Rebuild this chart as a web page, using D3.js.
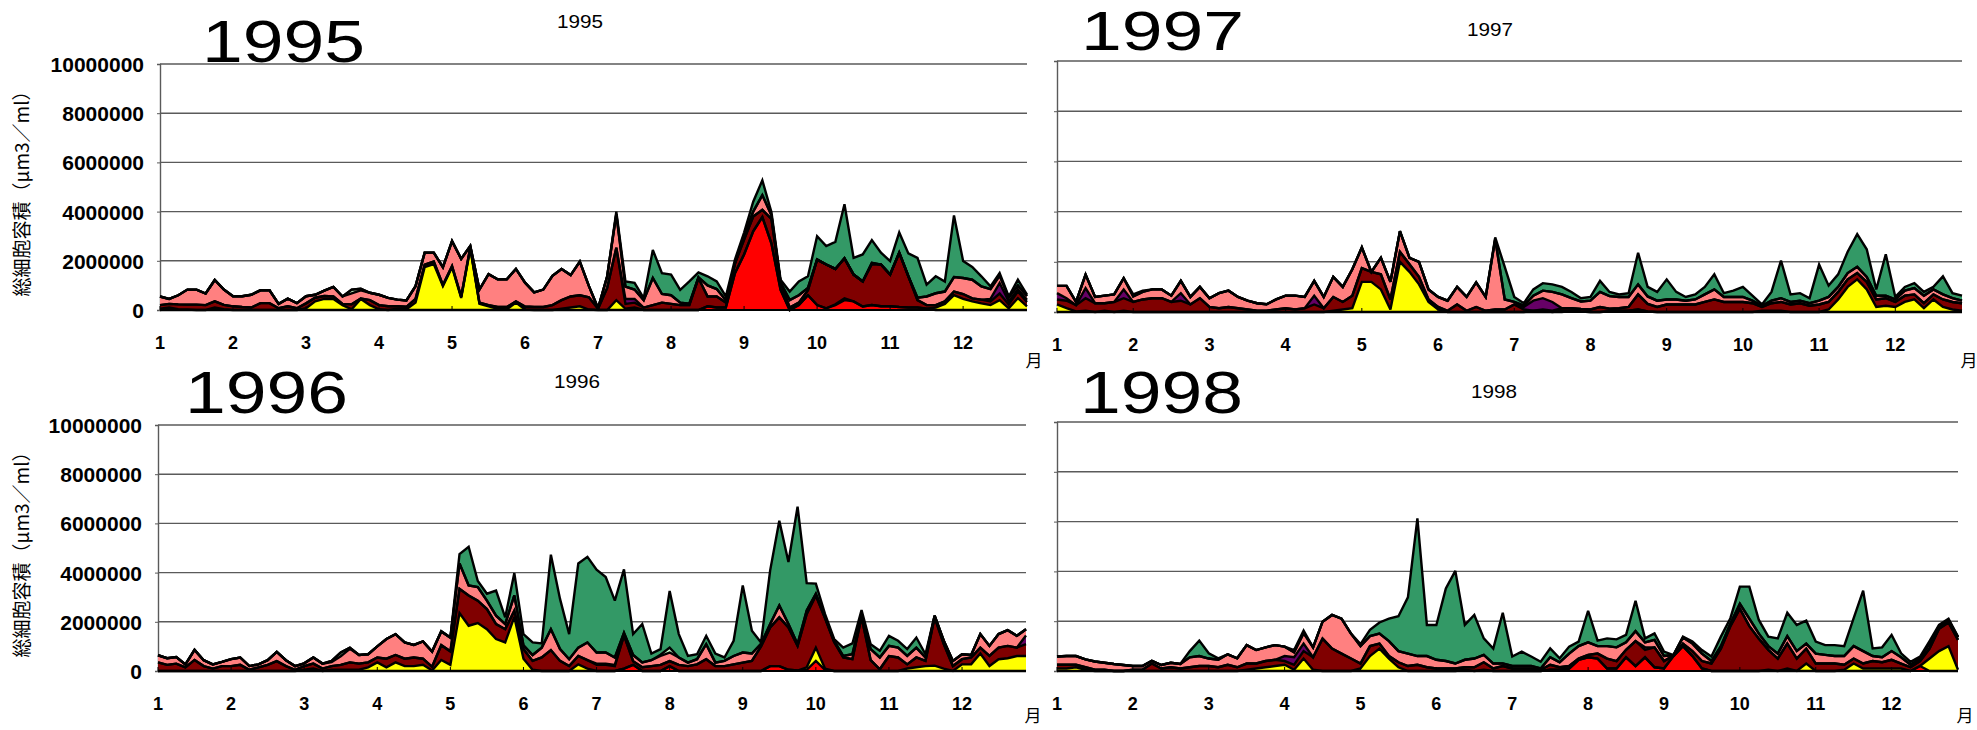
<!DOCTYPE html>
<html>
<head>
<meta charset="utf-8">
<script src="https://cdn.jsdelivr.net/npm/d3@7"></script>
<style>
  body { margin: 0; background: #fff; }
  text { font-family: "Liberation Sans", Arial, sans-serif; }
</style>
</head>
<body>
<svg id="chart" width="1977" height="730"></svg>
<script>
// ---- axis content ----
const monthLabels = ["1","2","3","4","5","6","7","8","9","10","11","12"];
const monthStartIndex = [0, 8, 16, 24, 32, 40, 48, 56, 64, 72, 80, 88];
const yTickValues = [0, 2, 4, 6, 8, 10];               // millions
const yTickLabels = ["0","2000000","4000000","6000000","8000000","10000000"];
const yAxisTitle = "総細胞容積（μm3／ml）";
const monthUnit = "月";

// stacking order, bottom to top
const seriesKeys = ["red", "yellow", "maroon", "purple", "salmon", "lightgreen", "green"];
const seriesColors = {
  red: "#ff0000", yellow: "#ffff00", maroon: "#800000", purple: "#660066",
  salmon: "#ff8080", lightgreen: "#ccffcc", green: "#339966"
};

// ---- cell volume by group, millions µm3/ml, 8 samples per month ----
// 1995
const red1995 = [0,0,0,0,0,0,0,0, 0,0,0,0,0,0,0,0, 0,0,0,0,0,0,0,0, 0,0,0,0,0,0,0,0,
  0,0,0,0,0,0,0,0, 0,0,0,0,0,0,0,0, 0,0,0,0,0,0,0,0, 0,0,0,0,.15,.1,.1,1.5,
  2.26,3.2,3.78,2.7,.82,0,.2,.6, .2,.07,.2,.4,.35,.14,.2,.15, .15,.12,.1,.1,.05,0,0,0, 0,0,0,0,0,0,0,0];
const yellow1995 = [.05,.1,.03,.02,0,0,.1,.03, 0,0,0,0,0,0,0,0, .07,.35,.45,.45,.2,.03,.45,.2, .03,0,.05,.03,.3,1.74,1.87,.97,
  1.74,.49,2.5,.25,.15,.05,.02,.3, .02,0,0,0,.05,.1,.15,.02, 0,0,.4,.05,.1,0,0,0, 0,0,0,0,0,0,0,0,
  0,0,0,0,0,0,0,0, 0,0,.03,.07,0,0,0,0, 0,0,0,0,0,.1,.25,.6, .45,.35,.27,.2,.4,.07,.48,.15];
const maroon1995 = [.15,.15,.2,.2,.22,.2,.25,.18, .15,.12,.1,.28,.28,.07,.15,.07, .2,.15,.12,.1,.05,.2,.02,.2, .17,.15,.1,.1,.15,.1,.1,.05,
  .05,.05,.05,.05,.05,.07,.1,.05, .12,.12,.12,.2,.35,.45,.45,.5, .05,.9,2.13,.2,.2,.1,.2,.3, .25,.2,.2,1.3,.4,.45,.2,.4,
  .6,.6,.29,1.0,.3,.1,.1,.2, 1.85,1.78,1.44,1.63,1.09,1.02,1.67,1.7, 1.29,2.21,1.27,.3,.15,.1,.1,.15, .2,.12,.15,.15,.27,.15,.27,.17];
const purple1995 = [0,0,0,0,0,0,0,0, 0,0,0,0,0,0,0,0, 0,0,0,0,0,0,0,0, 0,0,0,0,0,0,0,0,
  0,0,0,0,0,0,0,0, 0,0,0,0,0,0,0,0, 0,0,0,.2,.15,0,0,0, 0,0,0,0,0,0,0,0,
  0,0,0,0,0,0,0,0, 0,0,0,0,0,0,0,0, 0,0,0,0,0,0,0,0, 0,0,0,.1,.43,.13,.1,.1];
const salmon1995 = [.35,.2,.37,.61,.61,.47,.87,.62, .41,.44,.52,.52,.52,.18,.31,.21, .29,.12,.22,.39,.3,.45,.33,.3, .42,.34,.27,.26,.52,.49,.36,.72,
  1.01,1.54,.05,.53,1.26,1.13,1.13,1.32, .97,.6,.71,1.19,1.27,.87,1.37,.45, .02,.47,1.37,.5,.38,.3,1.1,.35, .35,.1,.06,.03,.45,.3,.1,0,
  .14,.2,.6,.15,0,.3,.3,.1, 0,0,0,0,0,0,.05,0, 0,0,0,.1,.35,.48,.4,.59, .65,.76,.54,.4,.3,.15,.15,.15];
const lightgreen1995 = [0,0,0,0,0,0,0,0, 0,0,0,0,0,0,0,0, 0,0,0,0,0,.15,.06,0, 0,0,0,0,0,0,0,0,
  0,0,0,0,0,0,0,0, 0,0,0,0,0,0,0,0, 0,0,0,0,0,0,0,0, 0,0,0,0,0,0,0,0,
  0,0,0,0,0,0,0,0, 0,0,0,0,0,0,0,0, 0,0,0,0,0,0,0,0, 0,0,0,0,0,0,0,0];
const green1995 = [0,0,0,0,0,0,0,0, 0,0,0,0,0,0,0,0, 0,0,0,0,0,0,0,0, 0,0,0,0,0,0,0,0,
  0,0,0,0,0,0,0,0, 0,0,0,0,0,0,0,0, 0,0,.1,.21,.27,.08,1.14,.85, .84,.52,.9,.2,.37,.31,.15,.15,
  .15,.4,.6,.12,.11,.35,.56,.47, .95,.75,1.1,2.2,.68,1.1,.92,.48, .55,.82,.93,1.62,.48,.69,.41,2.5, .69,.52,.41,.11,.1,.05,.23,.05];

// 1996
const red1996 = [0,0,0,0,0,0,0,0, 0,0,0,0,0,0,0,0, 0,0,0,0,0,0,0,0, 0,0,0,0,0,0,0,0,
  0,0,0,0,0,0,0,0, 0,0,0,0,0,0,0,0, 0,0,0,.1,.25,0,0,0, .2,0,0,0,0,0,0,0,
  0,0,0,.2,.2,.05,.02,.05, .41,.05,0,0,0,0,0,0, 0,0,0,0,0,0,0,0, 0,0,0,0,0,0,0,0];
const yellow1996 = [0,0,0,0,0,0,0,0, 0,0,0,0,0,0,0,0, .05,.1,0,.05,.05,.05,.05,.15, .35,.15,.35,.2,.2,.25,.02,.45,
  .25,2.36,1.84,1.95,1.7,1.3,1.16,2.2, .5,.05,0,0,0,0,.27,.1, 0,0,0,0,0,0,0,0, 0,0,0,0,0,0,0,0,
  0,0,0,0,0,0,0,.1, .54,.05,0,0,0,0,0,0, 0,0,.1,.15,.2,.22,.1,0, .27,.27,.71,.2,.48,.52,.61,.61];
const maroon1996 = [.35,.25,.3,.15,.45,.2,.1,.2, .2,.25,.05,.15,.25,.4,.2,.05, .15,.2,.1,.15,.2,.3,.25,.2, .2,.35,.3,.3,.35,.25,.15,.6,
  .55,.98,1.23,.91,.82,.61,.54,.25, .39,.36,.55,.85,.41,.2,.34,.34, .25,.25,.2,1.35,.15,.15,.2,.25, .2,.25,.2,.27,.48,.2,.2,.27,
  .34,.41,1.0,1.57,1.98,1.72,1.0,2.17, 2.12,2.05,1.18,.55,.48,2.2,.44,.07, .61,.55,.17,.4,.21,1.96,.99,.2, .21,.28,.24,.41,.47,.5,.34,.48];
const purple1996 = [0,0,0,0,0,0,0,0, 0,0,0,0,0,0,0,0, 0,0,0,0,0,0,0,0, 0,0,0,0,0,0,0,0,
  0,0,0,0,0,0,0,0, 0,0,0,0,0,0,0,0, .05,.05,.05,0,0,0,0,0, 0,0,0,0,0,0,0,0,
  0,0,0,0,0,0,0,0, 0,0,0,0,0,0,0,0, 0,0,0,0,0,0,0,0, 0,0,0,0,0,0,0,.35];
const salmon1996 = [.29,.27,.27,.12,.41,.24,.17,.17, .28,.3,.15,.12,.19,.38,.24,.15, .11,.25,.2,.16,.35,.55,.35,.33, .45,.8,.85,.66,.51,.7,.62,.56,
  .56,1.03,.41,.55,.34,.34,.21,.62, .15,.24,.4,.85,.48,.28,.34,.72, .45,.45,.3,.1,.25,.2,.24,.36, .35,.3,.14,.21,.61,.14,.21,.34,
  .41,.3,.1,.14,.48,.14,.07,.14, .07,.05,.05,.06,.2,.05,.45,.48, .41,.4,.34,.4,.14,.07,.14,.21, .2,.1,.55,.41,.55,.64,.48,.26];
const lightgreen1996 = [0,0,0,0,0,0,0,0, 0,0,0,0,0,0,0,0, 0,0,0,.05,.15,.05,0,0, 0,0,0,0,0,0,0,0,
  0,0,0,0,0,0,0,0, 0,0,0,0,0,0,0,0, 0,0,0,0,0,0,0,.05, .2,0,0,0,0,0,0,0,
  0,0,0,0,0,0,0,0, 0,0,0,0,0,0,0,0, 0,0,0,0,0,0,0,0, 0,0,0,0,0,0,0,0];
const green1996 = [0,0,0,0,0,0,0,0, 0,0,0,0,0,0,0,0, 0,0,0,0,0,0,0,0, 0,0,0,0,0,0,0,0,
  0,.38,1.57,.25,.28,1.02,.27,.91, .46,.51,.17,3.03,2.04,1.02,3.42,3.48, 3.37,3.07,2.31,2.58,.85,1.56,.27,.23, 2.3,.95,.27,.2,.34,.37,.14,.62,
  2.73,.93,.06,2.18,3.45,2.52,5.59,1.11, .41,.12,.07,.34,.44,.23,.2,.27, .41,.28,.28,.41,.13,0,0,0, 0,0,0,0,0,0,0,0];

// 1997
const red1997 = [0,0,0,0,0,0,0,0, 0,0,0,0,0,0,0,0, 0,0,0,0,0,0,0,0, 0,0,0,0,0,0,0,0,
  0,0,0,0,0,0,0,0, 0,0,0,0,0,0,0,0, 0,0,0,0,0,0,.05,.02, 0,0,.03,.05,.05,.1,.02,0,
  0,0,0,0,0,0,0,0, 0,0,0,0,0,0,0,0, 0,0,0,0,0,0,0,0, 0,0,0,0,0,0,0,0];
const yellow1997 = [.3,.15,.02,.05,0,.05,0,.05, 0,0,0,0,0,0,0,0, 0,0,0,0,0,0,0,0, 0,0,0,0,0,.05,.1,.15,
  1.2,1.2,.9,.1,2.0,1.6,1.1,.4, .1,0,0,0,0,0,0,0, 0,0,.05,.05,0,.05,0,0, 0,0,0,0,0,0,0,0,
  0,0,0,0,0,0,0,0, 0,0,.05,.05,.05,0,0,0, 0,.1,.5,1.0,1.3,.9,.2,.25, .2,.4,.5,.15,.5,.2,.1,.05];
const maroon1997 = [.2,.3,.25,.5,.35,.3,.4,.5, .4,.5,.55,.55,.4,.45,.3,.55, .2,.15,.2,.15,.1,.05,.05,.1, .15,.1,.15,.3,.15,.55,.3,.5,
  .55,.4,.6,.4,.4,.3,.3,.1, .1,.05,.3,.05,.2,.05,.1,.1, .3,.1,0,.05,.05,.1,.1,.1, .1,.2,.1,.1,.15,.6,.3,.2,
  .3,.3,.3,.3,.4,.5,.4,.4, .4,.35,.15,.3,.35,.3,.35,.25, .3,.3,.3,.3,.25,.3,.3,.3, .2,.25,.2,.2,.2,.3,.3,.3];
const purple1997 = [.25,.1,0,.4,0,0,0,.35, 0,0,0,0,0,.3,0,0, 0,0,0,0,0,0,0,0, 0,0,0,.35,0,0,0,0,
  0,0,0,0,0,0,0,0, 0,0,0,0,0,0,0,0, 0,.1,.4,.45,.35,0,0,0, 0,0,0,0,0,0,0,0,
  0,0,0,0,0,0,0,0, 0,0,0,0,0,0,0,0, 0,0,0,0,0,0,0,0, 0,0,0,0,0,0,0,0];
const salmon1997 = [.29,.49,.13,.54,.25,.3,.3,.45, .22,.3,.35,.35,.25,.49,.3,.45, .35,.6,.65,.45,.35,.3,.26,.4, .5,.55,.45,.59,.45,.8,.6,1.05,
  .82,0,.66,.7,.82,.26,.6,.4, .4,.4,.7,.55,.98,.55,2.8,.4, .1,.05,.2,.3,.4,.55,.4,.3, .35,.6,.5,.45,.4,.4,.3,.25,
  .2,.2,.15,.2,.3,.4,.2,.2, .2,.1,.05,.1,.15,.1,.1,.1, .15,.2,.2,.25,.25,.2,.15,.1, .1,.2,.25,.3,.2,.2,.15,.1];
const lightgreen1997 = [0,0,0,0,0,0,0,0, 0,0,0,0,0,0,0,0, 0,0,0,0,0,0,0,0, 0,0,0,0,0,0,0,0,
  0,0,0,0,0,0,0,0, 0,0,0,0,0,0,0,0, 0,0,0,0,0,0,0,0, 0,0,0,0,0,0,0,0,
  0,0,0,0,0,0,0,0, 0,0,0,0,0,0,0,0, 0,0,0,0,0,0,0,0, 0,0,0,0,0,0,0,0];
const green1997 = [0,0,0,0,0,0,0,0, .08,.05,0,0,0,0,0,0, 0,0,0,0,0,0,0,0, 0,0,0,0,0,0,0,0,
  0,0,0,0,0,0,0,0, 0,0,0,0,0,0,.07,1.3, .2,.1,.25,.3,.3,.3,.25,.13, .15,.44,.17,.1,.15,1.26,.38,.35,
  .8,.3,.15,.2,.3,.6,.15,.25, .4,.2,.05,.35,1.5,.3,.3,.2, 1.44,.45,.5,.85,1.3,1.1,.25,1.65, .1,.15,.2,.15,.1,.72,.2,.2];

// 1998
const red1998 = [0,0,0,0,0,0,0,0, 0,0,0,0,0,0,0,0, 0,0,0,0,0,0,0,0, 0,0,0,0,0,0,0,0,
  0,0,0,0,0,0,0,0, 0,0,0,0,0,0,0,0, 0,0,0,0,.05,.05,.1,.45, .55,.5,.1,.1,.55,.2,.55,.15,
  .1,.6,1.0,.6,.1,0,0,0, 0,0,0,0,0,0,0,0, 0,0,0,0,0,0,0,0, 0,0,0,.2,0,0,0,0];
const yellow1998 = [.1,.1,.15,.05,0,0,0,0, 0,0,0,0,0,0,0,0, 0,0,0,0,.05,.1,.15,.2, .25,.05,.5,.05,0,0,0,0,
  .1,.6,.9,.5,.15,0,0,0, 0,0,0,.05,0,.05,0,0, 0,0,0,0,0,0,0,0, 0,0,0,0,0,0,0,0,
  0,0,0,0,0,0,0,0, 0,0,0,.05,0,.1,0,.3, 0,0,0,.05,.3,.1,.1,.1, .1,.1,0,0,.5,.8,1.0,.05];
const maroon1998 = [.15,.15,.1,.1,.05,.05,0,0, .05,.05,.3,.1,.15,.1,.15,.2, .2,.15,.25,.15,.25,.2,.25,.25, .15,.2,.3,.5,1.3,.9,.7,.5,
  .2,.4,.2,.1,.2,.2,.25,.15, .1,.1,.1,.1,.15,.3,.1,.2, .1,.1,.1,.05,.2,.1,.1,.05, .1,.2,.4,.3,.3,1.0,.3,.8,
  .3,.02,.1,.2,.3,.3,.9,1.8, 2.5,1.8,1.3,.8,.5,1.0,.5,.6, .3,.3,.3,.2,.2,.2,.3,.25, .35,.2,.15,.2,.4,.9,.95,1.2];
const purple1998 = [0,0,0,0,0,0,0,0, 0,0,0,0,0,0,0,0, 0,0,0,0,0,0,0,0, .2,.3,.3,0,0,0,0,0,
  0,0,0,0,0,0,0,0, 0,0,0,0,0,0,0,0, 0,0,0,0,0,0,0,0, 0,0,0,0,0,0,.1,0,
  0,0,0,0,0,0,0,0, 0,0,0,0,0,0,0,0, 0,0,0,0,0,0,0,0, 0,0,0,0,0,0,0,0];
const salmon1998 = [.33,.35,.35,.32,.33,.28,.28,.24, .15,.15,.11,.14,.18,.18,.4,.4, .3,.3,.42,.36,.74,.54,.55,.59, .38,.2,.42,.4,.68,1.35,1.4,1.0,
  .7,.4,.4,.6,.45,.5,.35,.45, .35,.3,.2,.3,.35,.3,.2,.1, .1,.1,.1,.05,.3,.2,.5,.5, .5,.3,.5,.55,.3,.4,.2,.3,
  .2,.02,.25,.3,.3,.1,.1,.1, .2,.3,.2,.15,.2,.3,.3,.2, .4,.35,.3,.35,.5,.5,.2,.2, .35,.25,.1,.1,.2,.1,.1,.1];
const lightgreen1998 = [0,0,0,0,0,0,0,0, 0,0,0,0,0,0,0,0, 0,0,0,0,0,0,0,0, 0,0,0,0,0,0,0,0,
  0,0,0,0,0,0,0,0, 0,0,0,0,0,0,0,0, 0,0,0,0,0,0,0,0, 0,0,0,0,0,0,0,0,
  0,0,0,0,0,0,0,0, 0,0,0,0,0,0,0,0, 0,0,0,0,0,0,0,0, 0,0,0,0,0,0,0,0];
const green1998 = [0,0,0,0,0,0,0,0, 0,0,0,0,0,0,.25,.62, .21,.06,0,0,0,0,0,0, 0,.09,.1,0,0,0,0,0,
  .08,.25,.45,.9,1.4,2.26,5.53,1.25, 1.4,2.92,3.72,1.4,1.75,.66,.6,2.04, .38,.58,.38,.27,.36,.16,.28,.18, 1.27,.22,.31,.32,.3,1.22,.16,.26,
  .18,0,.03,.08,.14,.18,.38,.22, .69,1.29,.55,.38,.61,.94,1.05,.92, .48,.39,.44,.4,1.12,2.43,.31,.4, .65,.16,.12,.08,.1,.05,.05,.03];

// ---- panel layout ----
const panels = [
  { year: "1995", left: 160, right: 1027, top: 64, bottom: 310, yLabels: true, unitY: 367,
    big: { x: 202, y: 62, size: 60 }, small: { x: 580, y: 28 },
    series: { red: red1995, yellow: yellow1995, maroon: maroon1995, purple: purple1995,
              salmon: salmon1995, lightgreen: lightgreen1995, green: green1995 } },
  { year: "1997", left: 1057, right: 1962, top: 61, bottom: 312, yLabels: false, unitY: 367,
    big: { x: 1081, y: 50, size: 55 }, small: { x: 1490, y: 36 },
    series: { red: red1997, yellow: yellow1997, maroon: maroon1997, purple: purple1997,
              salmon: salmon1997, lightgreen: lightgreen1997, green: green1997 } },
  { year: "1996", left: 158, right: 1026, top: 425, bottom: 671, yLabels: true, unitY: 722,
    big: { x: 185, y: 413, size: 60 }, small: { x: 577, y: 388 },
    series: { red: red1996, yellow: yellow1996, maroon: maroon1996, purple: purple1996,
              salmon: salmon1996, lightgreen: lightgreen1996, green: green1996 } },
  { year: "1998", left: 1057, right: 1958, top: 422, bottom: 671, yLabels: false, unitY: 722,
    big: { x: 1080, y: 413, size: 60 }, small: { x: 1494, y: 398 },
    series: { red: red1998, yellow: yellow1998, maroon: maroon1998, purple: purple1998,
              salmon: salmon1998, lightgreen: lightgreen1998, green: green1998 } }
];

const svg = d3.select("#chart");

function drawPanel(p) {
  const n = p.series.red.length;
  const x = d3.scaleLinear().domain([0, n - 1]).range([p.left, p.right]);
  const y = d3.scaleLinear().domain([0, 10]).range([p.bottom, p.top]);
  const g = svg.append("g");

  // horizontal gridlines
  g.selectAll("line.grid").data(yTickValues.slice(1)).join("line")
    .attr("x1", p.left).attr("x2", p.right)
    .attr("y1", d => y(d)).attr("y2", d => y(d))
    .attr("stroke", "#5a5a5a").attr("stroke-width", 1.4);

  // value axis
  const yAxis = d3.axisLeft(y).tickValues(yTickValues).tickSize(3)
    .tickFormat((d, i) => p.yLabels ? yTickLabels[i] : "");
  const ya = g.append("g").attr("transform", `translate(${p.left},0)`).call(yAxis);
  ya.select(".domain").attr("stroke", "#5a5a5a").attr("stroke-width", 1.4);
  ya.selectAll(".tick line").attr("stroke", "#5a5a5a");
  ya.selectAll(".tick text").attr("x", -16).attr("dy", "0.36em")
    .style("font-size", "21px").style("font-weight", "bold")
    .style("font-family", "'Liberation Sans', Arial, sans-serif")
    .attr("fill", "#000");

  // stacked layers
  const rows = d3.range(n).map(i => {
    const r = { i };
    seriesKeys.forEach(k => { r[k] = p.series[k][i]; });
    return r;
  });
  const stacked = d3.stack().keys(seriesKeys)(rows);
  const area = d3.area().x((d, i) => x(i)).y0(d => y(d[0])).y1(d => y(d[1]));
  const edge = d3.line().x((d, i) => x(i)).y(d => y(d[1]));

  g.selectAll("path.layer").data(stacked).join("path")
    .attr("class", "layer")
    .attr("d", area)
    .attr("fill", d => seriesColors[d.key]);

  g.selectAll("path.edge").data(stacked).join("path")
    .attr("class", "edge")
    .attr("d", edge)
    .attr("fill", "none").attr("stroke", "#000")
    .attr("stroke-width", 2.4).attr("stroke-linejoin", "miter").attr("stroke-miterlimit", 3);

  // base line
  g.append("line").attr("x1", p.left).attr("x2", p.right)
    .attr("y1", p.bottom).attr("y2", p.bottom)
    .attr("stroke", "#000").attr("stroke-width", 2);

  // month ticks and labels
  g.selectAll("line.mtick").data(monthStartIndex).join("line")
    .attr("x1", d => x(d)).attr("x2", d => x(d))
    .attr("y1", p.bottom).attr("y2", p.bottom - 4)
    .attr("stroke", "#000").attr("stroke-width", 1);
  g.selectAll("text.month").data(monthLabels).join("text")
    .attr("x", (d, i) => x(monthStartIndex[i]))
    .attr("y", p.bottom + 39)
    .attr("text-anchor", "middle")
    .style("font-size", "18px").style("font-weight", "bold")
    .text(d => d);
  g.append("text")
    .attr("x", p.right + 7).attr("y", p.unitY)
    .attr("text-anchor", "middle")
    .style("font-size", "17px").style("font-family", "'Noto Sans CJK JP', sans-serif")
    .text(monthUnit);

  // titles
  g.append("text")
    .attr("x", p.big.x).attr("y", p.big.y)
    .attr("textLength", 163).attr("lengthAdjust", "spacingAndGlyphs")
    .style("font-size", p.big.size + "px")
    .text(p.year);
  g.append("text")
    .attr("x", p.small.x).attr("y", p.small.y)
    .attr("text-anchor", "middle")
    .attr("textLength", 46).attr("lengthAdjust", "spacingAndGlyphs")
    .style("font-size", "19px")
    .text(p.year);

  if (p.yLabels) {
    const cy = (p.top + p.bottom) / 2 + 2;
    g.append("text")
      .attr("transform", `translate(22,${cy}) rotate(-90)`)
      .attr("text-anchor", "middle").attr("dy", "0.35em")
      .style("font-size", "19px").style("font-family", "'Noto Sans CJK JP', sans-serif")
      .text(yAxisTitle);
  }
}

panels.forEach(drawPanel);
</script>
</body>
</html>
